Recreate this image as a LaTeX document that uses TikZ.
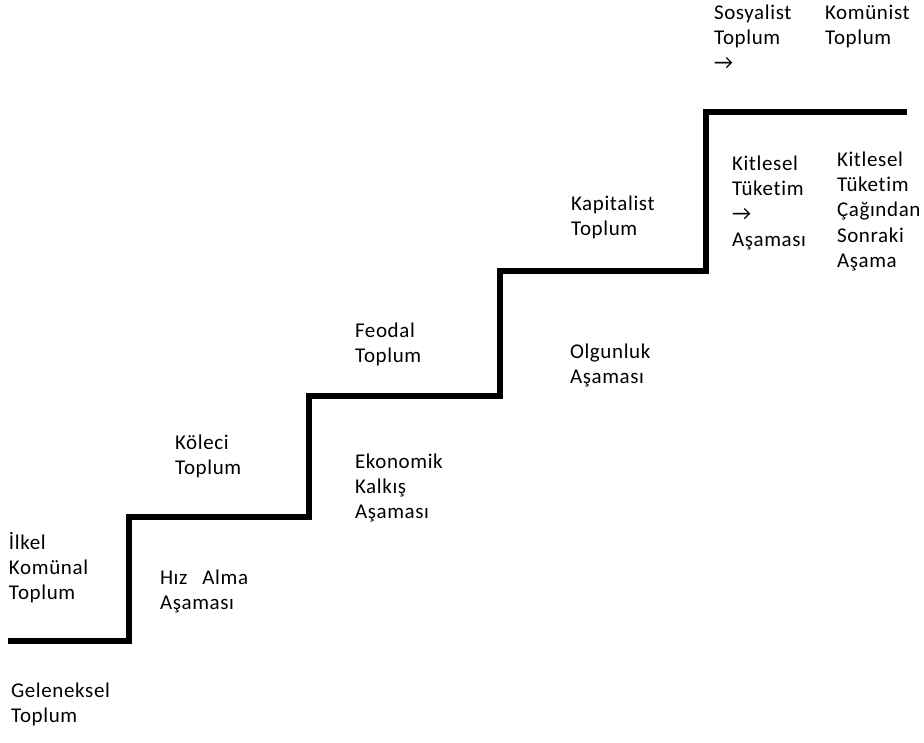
\documentclass[tikz,border=0pt]{standalone}
\usepackage{fontspec}
\setmainfont{Carlito}[LetterSpace=3,Ligatures={NoCommon,NoRare}]
\begin{document}
\begin{tikzpicture}[x=1pt,y=-1pt,
  lbl/.style={anchor=north west,inner sep=0pt,outer sep=0pt,align=left,
    font=\fontsize{21}{25.2}\selectfont,execute at begin node=\strut},
  stair/.style={line width=6.5pt,line join=miter,line cap=butt,black}]
\useasboundingbox[fill=white] (0,0) rectangle (924,743);
% staircase corners
\coordinate (s0) at (8,641);
\coordinate (s1) at (129,641);
\coordinate (s2) at (129,517);
\coordinate (s3) at (309,517);
\coordinate (s4) at (309,396);
\coordinate (s5) at (500,396);
\coordinate (s6) at (500,271);
\coordinate (s7) at (706,271);
\coordinate (s8) at (706,112);
\coordinate (s9) at (907,112);
\draw[stair] (s0) -- (s1) -- (s2) -- (s3) -- (s4) -- (s5) -- (s6) -- (s7) -- (s8) -- (s9);
% labels (top = first baseline - 17.6)
\node[lbl] (ilkel) at (9,532) {İlkel\\Komünal\\Toplum};
\node[lbl] (gelen) at (11,683) {Geleneksel\\Toplum};
\node[lbl] (hiz) at (160,570) {Hız\hspace{15pt}Alma\\Aşaması};
\node[lbl] (koleci) at (175,435) {Köleci\\Toplum};
\node[lbl] (feodal) at (355,323) {Feodal\\Toplum};
\node[lbl] (ekon) at (355,454) {Ekonomik\\Kalkış\\Aşaması};
\node[lbl] (kapital) at (571,196) {Kapitalist\\Toplum};
\node[lbl] (olgun) at (570,344) {Olgunluk\\Aşaması};
\node[lbl] (sosyal) at (714,5) {Sosyalist\\Toplum\\→};
\node[lbl] (komun) at (825,5) {Komünist\\Toplum};
\node[lbl] (kitle1) at (732,156) {Kitlesel\\Tüketim\\→\\Aşaması};
\node[lbl] (kitle2) at (837,152) {Kitlesel\\Tüketim\\Çağından\\Sonraki\\Aşama};
\end{tikzpicture}
\end{document}
